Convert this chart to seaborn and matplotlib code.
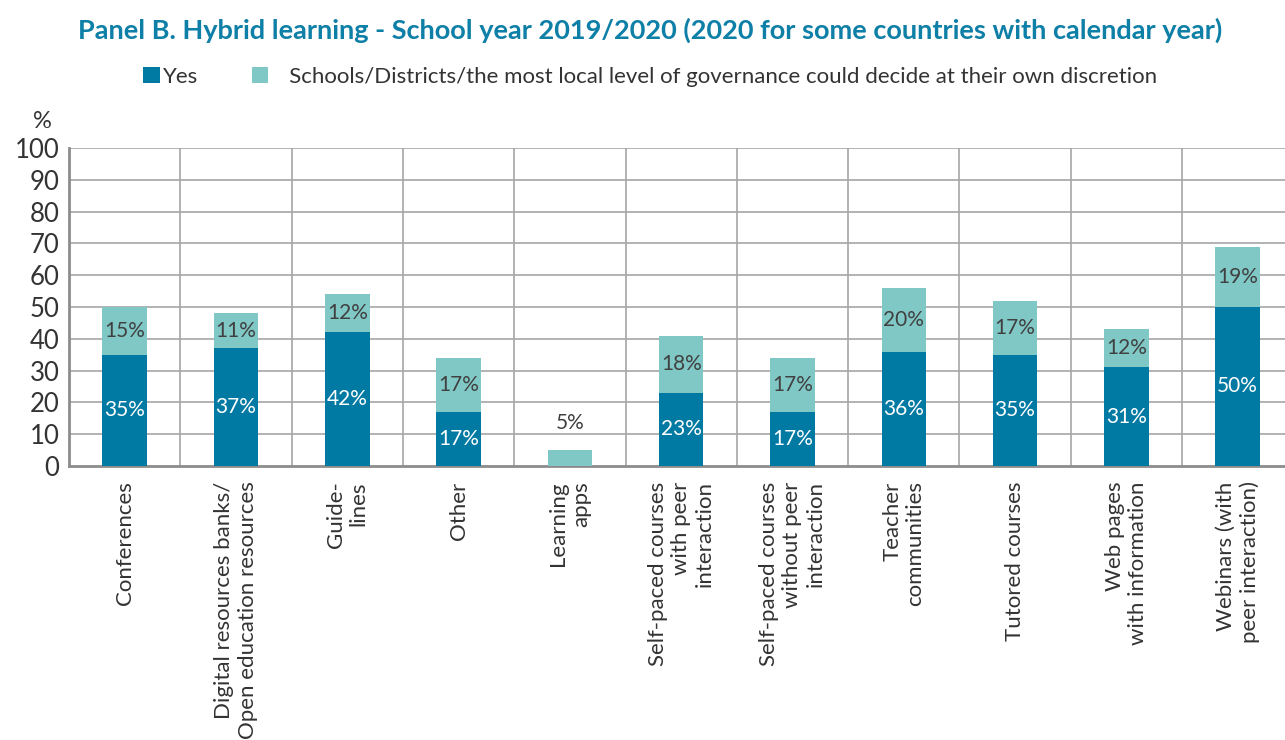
import matplotlib
matplotlib.use("Agg")
import matplotlib.pyplot as plt
import seaborn as sns
import pandas as pd
from matplotlib.patches import Patch

categories = [
    "Conferences",
    "Digital resources banks/\nOpen education resources",
    "Guide-\nlines",
    "Other",
    "Learning\napps",
    "Self-paced courses\nwith peer\ninteraction",
    "Self-paced courses\nwithout peer\ninteraction",
    "Teacher\ncommunities",
    "Tutored courses",
    "Web pages\nwith information",
    "Webinars (with\npeer interaction)",
]
yes_values = [35, 37, 42, 17, 0, 23, 17, 36, 35, 31, 50]
discretion_values = [15, 11, 12, 17, 5, 18, 17, 20, 17, 12, 19]
y_ticks = list(range(0, 101, 10))

series_yes = "Yes"
series_disc = "Schools/Districts/the most local level of governance could decide at their own discretion"

DARK = "#0079A3"
LIGHT = "#80C8C6"
TEXT = "#333333"
GRID = "#A6A6A6"
TITLE = "#0E7FA6"

sns.set_theme(style="white")
plt.rcParams["font.family"] = ["Lato", "DejaVu Sans"]

df = pd.DataFrame({
    "category": categories,
    "yes": yes_values,
    "disc": discretion_values,
})
df["total"] = df["yes"] + df["disc"]

fig = plt.figure(figsize=(12.85, 7.40), dpi=100)
ax = fig.add_axes([69 / 1285, 1 - 466 / 740, 1 - 69 / 1285, (466 - 148) / 740])

# stacked bars: full height in the light colour, "Yes" part drawn over it
sns.barplot(data=df, x="category", y="total", color=LIGHT, width=0.4,
            saturation=1, linewidth=0, ax=ax, zorder=3)
sns.barplot(data=df, x="category", y="yes", color=DARK, width=0.4,
            saturation=1, linewidth=0, ax=ax, zorder=3)
if ax.get_legend() is not None:
    ax.get_legend().remove()

ax.set_ylim(0, 100)
ax.set_xlim(-0.5, 10.425)
ax.set_yticks(y_ticks)
ax.set_yticklabels([str(t) for t in y_ticks], fontsize=18.5, color=TEXT)
ax.set_xlabel("")
ax.set_ylabel("")

# horizontal grid at every tick, vertical lines at category boundaries
for t in y_ticks[1:]:
    ax.axhline(t, color=GRID, lw=1.2, zorder=1)
for b in range(len(categories)):
    ax.axvline(b - 0.5, color=GRID, lw=1.2, zorder=1)

for side in ["top", "right"]:
    ax.spines[side].set_visible(False)
for side in ["left", "bottom"]:
    ax.spines[side].set_color("#8C8C8C")
    ax.spines[side].set_linewidth(2)
ax.tick_params(axis="y", length=0, pad=7)
ax.tick_params(axis="x", length=0, pad=11)

ax.set_xticks(range(len(categories)))
ax.set_xticklabels(categories, rotation=90, fontsize=16, color=TEXT,
                   va="top", ha="center", multialignment="right")

# value labels
for i, (y, d) in enumerate(zip(yes_values, discretion_values)):
    if y > 0:
        ax.text(i, y / 2, f"{y}%", ha="center", va="center", color="white",
                fontsize=15, zorder=4)
    if d >= 8:
        ax.text(i, y + d / 2, f"{d}%", ha="center", va="center", color="#404040",
                fontsize=15, zorder=4)
    else:
        ax.text(i, y + d + 8.5, f"{d}%", ha="center", va="center", color="#404040",
                fontsize=15, zorder=4)

fig.text(42 / 1285, 1 - 121 / 740, "%", ha="center", va="center", fontsize=17, color=TEXT)

fig.text(650 / 1285, 1 - 30 / 740,
         "Panel B. Hybrid learning - School year 2019/2020 (2020 for some countries with calendar year)",
         ha="center", va="center", fontsize=19.5, fontweight="bold", color=TITLE)

# legend
handles = [Patch(facecolor=DARK, edgecolor="none"), Patch(facecolor=LIGHT, edgecolor="none")]
leg = fig.legend(handles, [series_yes, "   " + series_disc],
                 loc="center", bbox_to_anchor=(650 / 1285, 1 - 77 / 740), ncol=2,
                 frameon=False, fontsize=16, handlelength=0.75, handleheight=0.75,
                 handletextpad=0.15, columnspacing=2.4)
for t in leg.get_texts():
    t.set_color(TEXT)

fig.savefig("out.png", dpi=100)
